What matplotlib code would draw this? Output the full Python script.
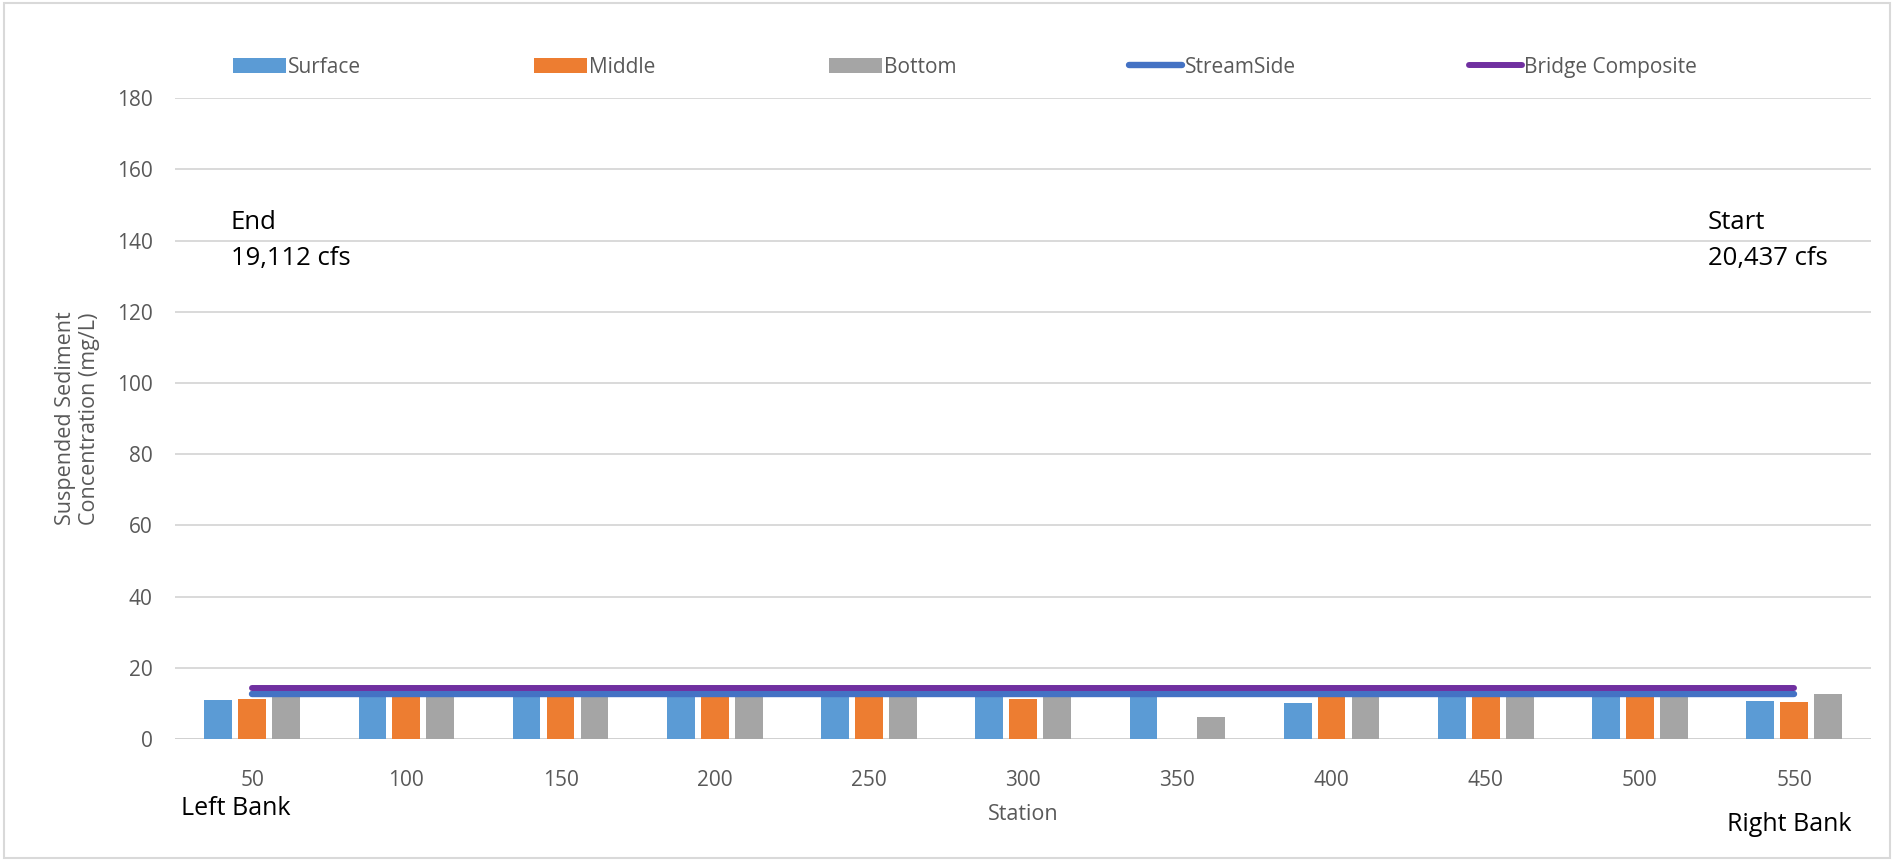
import numpy as np
import matplotlib
matplotlib.use('Agg')
import matplotlib.pyplot as plt
from matplotlib.patches import Rectangle

plt.rcParams['font.family'] = ['Open Sans', 'DejaVu Sans']

# data (bars hidden behind the lines are estimates)
stations = [50, 100, 150, 200, 250, 300, 350, 400, 450, 500, 550]
surface = [10.9, 13.0, 13.0, 13.0, 13.0, 13.0, 13.0, 10.2, 13.0, 13.0, 10.8]
middle = [11.2, 13.0, 13.0, 13.0, 13.0, 11.1, 0.0, 13.0, 13.0, 13.0, 10.5]
bottom = [13.0, 13.0, 13.0, 13.0, 13.0, 13.0, 6.1, 13.0, 13.0, 13.0, 12.5]
streamside = [12.6] * 11
bridge = [14.2] * 11
ticks_y = [0, 20, 40, 60, 80, 100, 120, 140, 160, 180]

grey_txt = '#595959'
fig = plt.figure(figsize=(18.94, 8.61), dpi=100)
ax = fig.add_axes([0.0924, 0.1417, 0.8956, 0.7443])

x = np.array(stations)
b1 = ax.bar(x - 11, surface, width=9, color='#5B9BD5', label='Surface', zorder=2)
b2 = ax.bar(x, middle, width=9, color='#ED7D31', label='Middle', zorder=2)
b3 = ax.bar(x + 11, bottom, width=9, color='#A5A5A5', label='Bottom', zorder=2)
l1, = ax.plot(x, streamside, color='#4472C4', lw=4.6, solid_capstyle='round', label='StreamSide', zorder=3)
l2, = ax.plot(x, bridge, color='#7030A0', lw=4.3, solid_capstyle='round', label='Bridge Composite', zorder=4)

ax.set_xlim(25, 575)
ax.set_ylim(0, 180)
ax.set_xticks(stations)
ax.set_yticks(ticks_y)
ax.tick_params(axis='both', length=0, labelsize=15, labelcolor=grey_txt)
ax.tick_params(axis='x', pad=22)
ax.tick_params(axis='y', pad=16)
for s in ax.spines.values():
    s.set_visible(False)
ax.grid(axis='y', color='#D9D9D9', lw=1.4, zorder=0)
ax.set_axisbelow(True)
ax.axhline(0, color='#D0D0D0', lw=2, zorder=1)

ax.set_xlabel('Station', fontsize=15.5, color=grey_txt, labelpad=10)
ax.set_ylabel('Suspended Sediment\nConcentration (mg/L)', fontsize=15.5, color=grey_txt, labelpad=12)

ax.text(43, 148.5, 'End\n19,112 cfs', fontsize=18.5, color='black', va='top', ha='left', linespacing=1.58)
ax.text(522, 148.5, 'Start\n20,437 cfs', fontsize=18.5, color='black', va='top', ha='left', linespacing=1.58)
fig.text(181 / 1894, 1 - 815 / 861, 'Left Bank', fontsize=18, color='black', ha='left', va='baseline')
fig.text(1851 / 1894, 1 - 831 / 861, 'Right Bank', fontsize=18, color='black', ha='right', va='baseline')

leg = fig.legend([b1, b2, b3, l1, l2], ['Surface', 'Middle', 'Bottom', 'StreamSide', 'Bridge Composite'],
                 loc='center left', bbox_to_anchor=(0.123, 0.922), ncol=5, frameon=False,
                 fontsize=15, handlelength=2.55, handletextpad=0.1, columnspacing=8.3,
                 borderpad=0, borderaxespad=0)
for t in leg.get_texts():
    t.set_color(grey_txt)

fig.patches.append(Rectangle((0.002, 0.004), 0.996, 0.992, transform=fig.transFigure,
                             fill=False, edgecolor='#D9D9D9', lw=1.5))

fig.savefig('out.png', dpi=100)
